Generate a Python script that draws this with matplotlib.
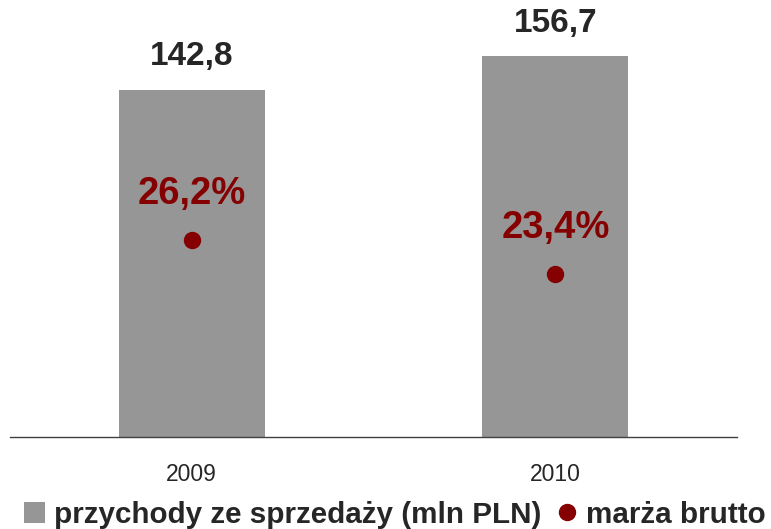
import matplotlib.pyplot as plt
from matplotlib.patches import Patch
from matplotlib.lines import Line2D

plt.rcParams['font.family'] = ['Liberation Sans', 'DejaVu Sans']

lata = ['2009', '2010']
przychody = [142.8, 156.7]
marza = [26.2, 23.4]
etykiety_przychody = ['142,8', '156,7']
etykiety_marza = ['26,2%', '23,4%']

szary = '#969696'
bordo = '#850000'

fig = plt.figure(figsize=(7.71, 5.29), dpi=100)
ax = fig.add_axes([0.013, 0.1745, 0.943, 0.806])
x = list(range(len(lata)))

ax.bar(x, przychody, width=0.402, color=szary, zorder=2)
ax.set_xlim(-0.5, 1.5)
ax.set_ylim(0, 175.7)
for xi, v, t in zip(x, przychody, etykiety_przychody):
    ax.annotate(t, (xi, v), xytext=(0, 24), textcoords='offset points',
                ha='center', va='center', fontsize=24, fontweight='bold', color='#262626')

ax2 = ax.twinx()
ax2.set_ylim(10, 45.15)
ax2.plot(x, marza, linestyle='none', marker='o', markersize=11.5, color=bordo, zorder=3)
for xi, v, t in zip(x, marza, etykiety_marza):
    ax2.annotate(t, (xi, v), xytext=(0, 33.5), textcoords='offset points',
                 ha='center', va='center', fontsize=27.5, fontweight='bold', color=bordo)

for a in (ax, ax2):
    for s in ['top', 'left', 'right', 'bottom']:
        a.spines[s].set_visible(False)
    a.set_yticks([])
ax.spines['bottom'].set_visible(True)
ax.spines['bottom'].set_color('#404040')
ax.spines['bottom'].set_linewidth(1)
ax.set_xticks(x)
ax.set_xticklabels(lata, fontsize=16.5, color='#262626')
ax.tick_params(axis='x', length=0, pad=19)

uchwyty = [Patch(facecolor=szary, edgecolor='none'),
           Line2D([], [], linestyle='none', marker='o', markersize=11.5, color=bordo)]
fig.legend(uchwyty, ['przychody ze sprzedaży (mln PLN)', 'marża brutto'],
           loc='center', bbox_to_anchor=(0.512, 0.027), ncol=2, frameon=False,
           prop={'size': 21.3, 'weight': 'bold'}, handlelength=0.72, handleheight=0.72,
           handletextpad=0.3, columnspacing=0.5, labelcolor='#262626', borderpad=0)

fig.savefig('out.png', dpi=100)
